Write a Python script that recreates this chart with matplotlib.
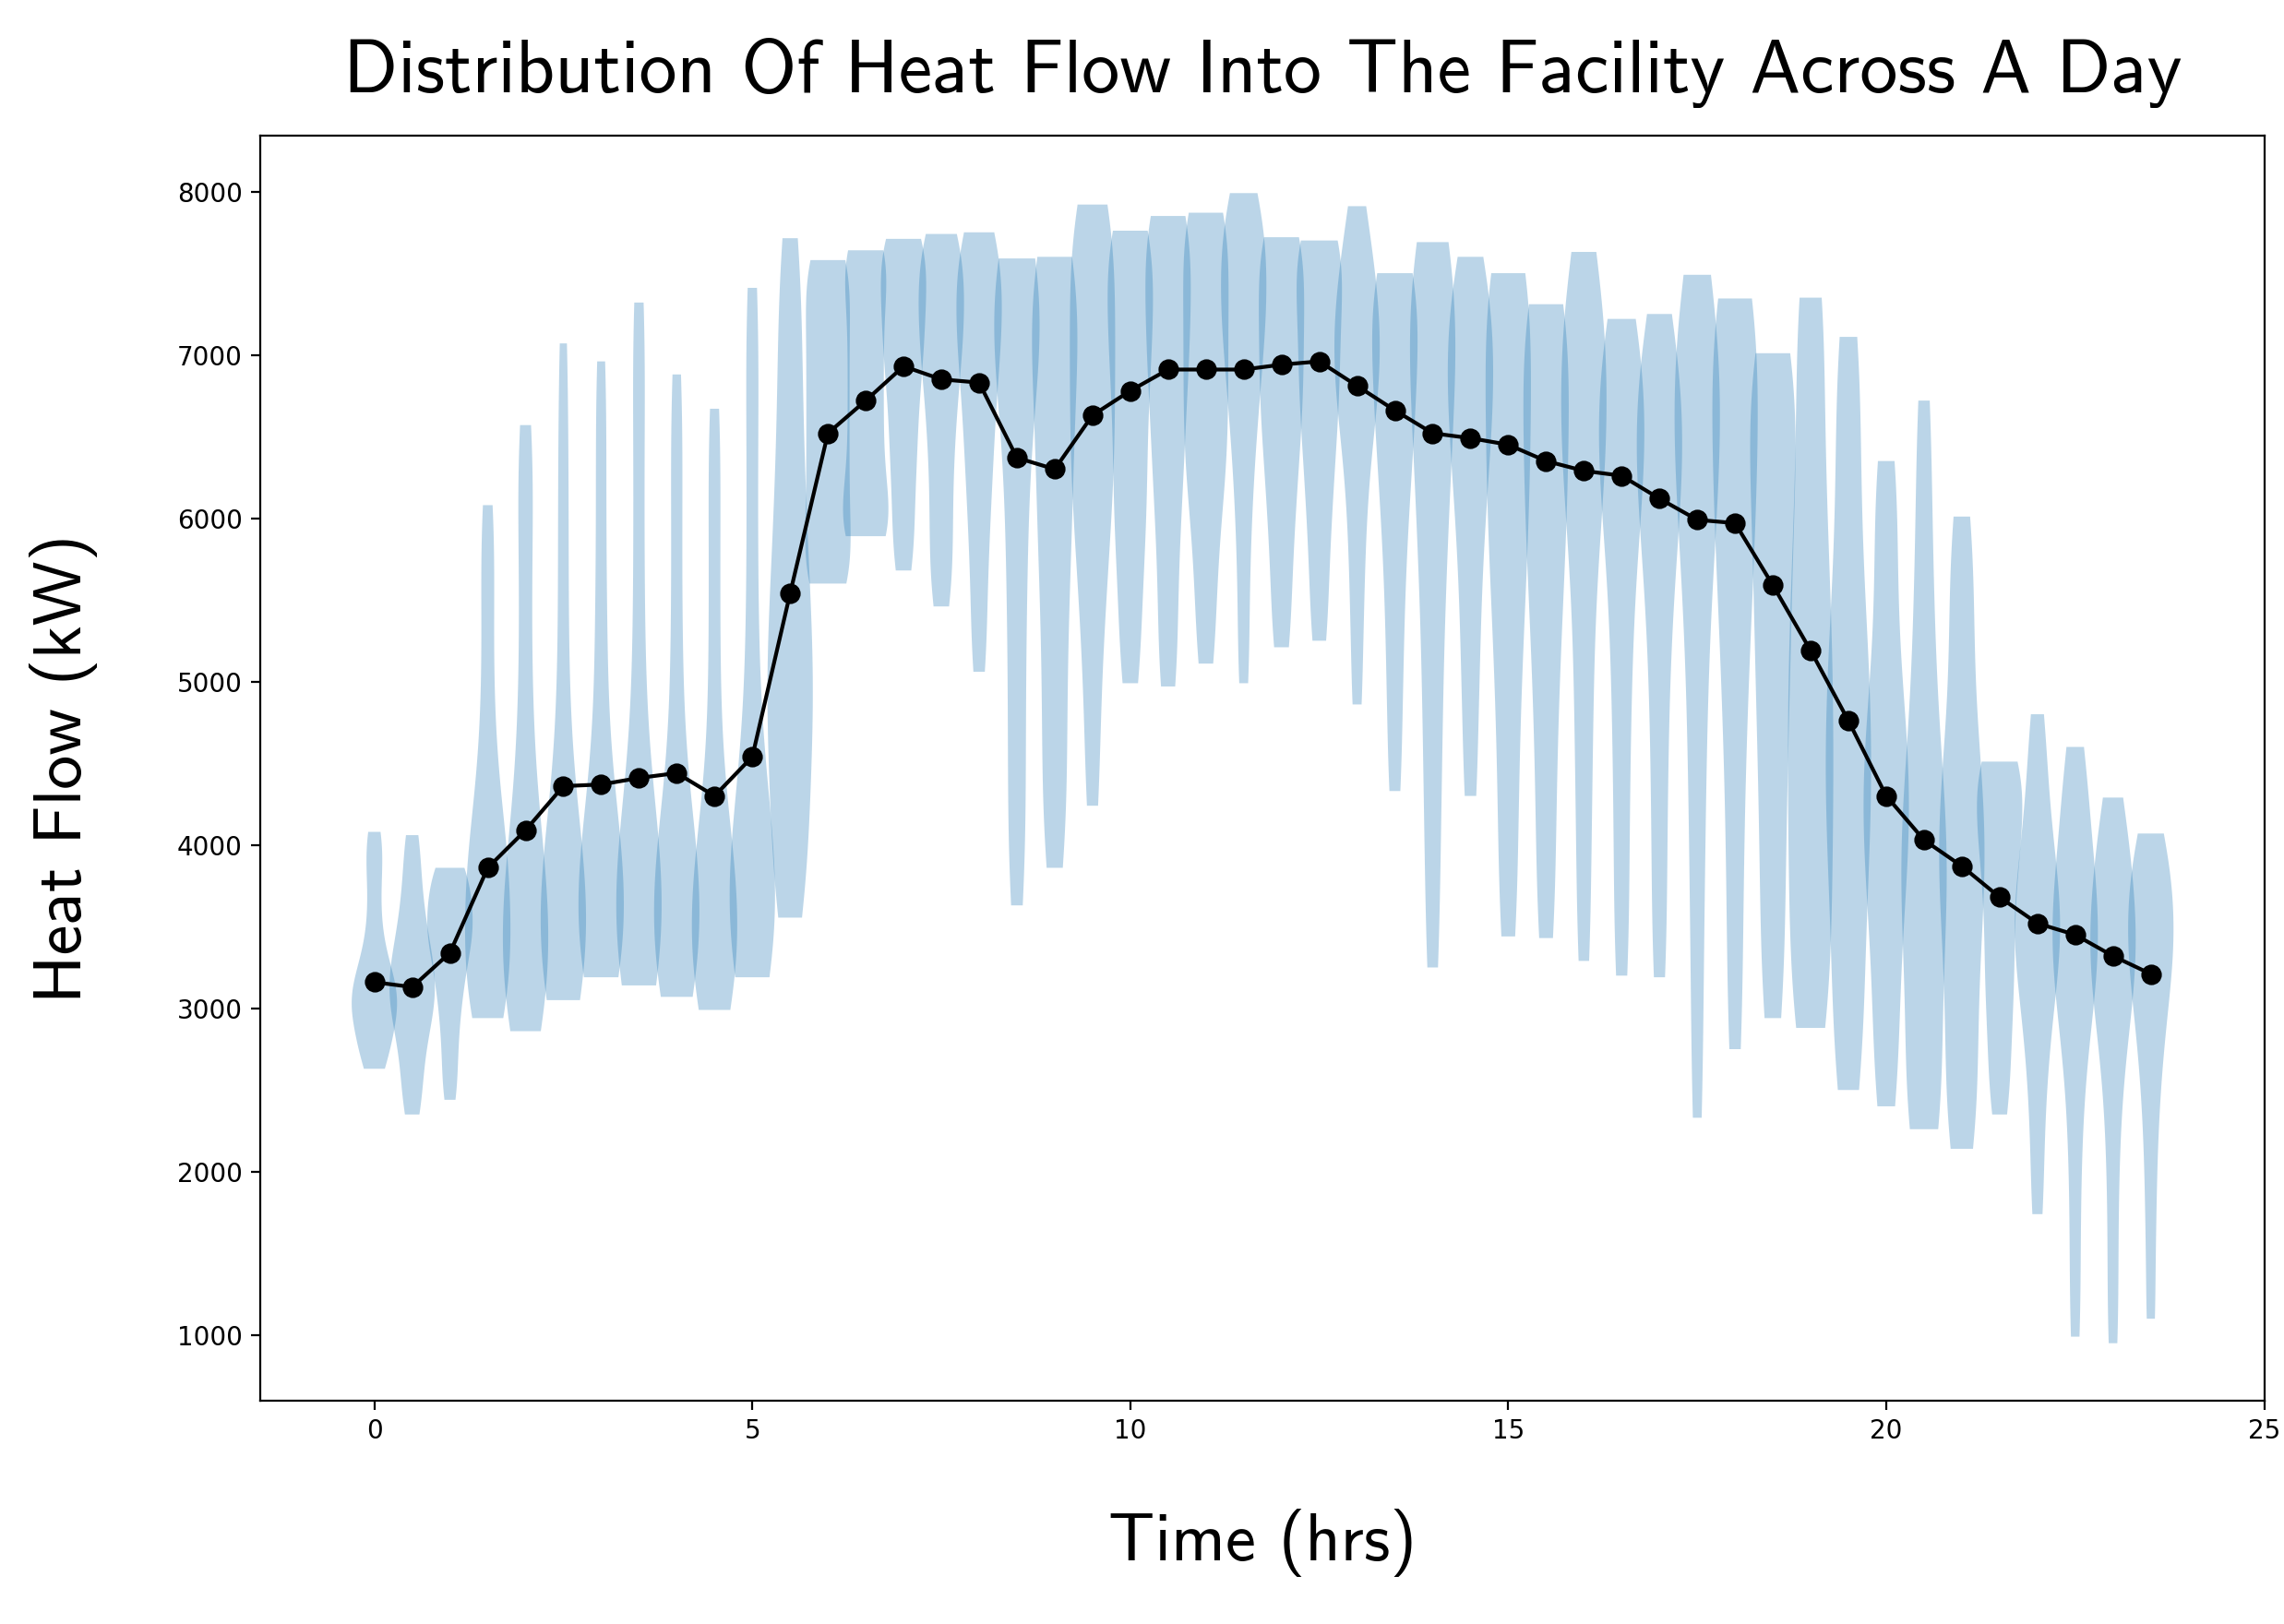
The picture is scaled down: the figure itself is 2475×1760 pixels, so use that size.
import numpy as np
import matplotlib
matplotlib.use("Agg")
import matplotlib.pyplot as plt

times = [0, 0.5, 1, 1.5, 2, 2.5, 3, 3.5, 4, 4.5, 5, 5.5, 6, 6.5, 7, 7.5, 8, 8.5,
         9, 9.5, 10, 10.5, 11, 11.5, 12, 12.5, 13, 13.5, 14, 14.5, 15, 15.5, 16,
         16.5, 17, 17.5, 18, 18.5, 19, 19.5, 20, 20.5, 21, 21.5, 22, 22.5, 23, 23.5]

mean_flow = [3160, 3130, 3340, 3860, 4090, 4360, 4370, 4410, 4440, 4300, 4540, 5540,
             6520, 6720, 6930, 6850, 6830, 6370, 6300, 6630, 6780, 6910, 6910, 6910,
             6940, 6960, 6810, 6660, 6520, 6490, 6450, 6350, 6290, 6260, 6120, 5990,
             5970, 5590, 5190, 4760, 4300, 4030, 3870, 3680, 3520, 3450, 3320, 3210]

flow_samples = [
    [2630, 2700, 2780, 2850, 2920, 2980, 3030, 3060, 3100, 3150, 3220, 3300, 3420, 3600, 3800, 3950, 4080],
    [2350, 2500, 2650, 2780, 2880, 2960, 3030, 3090, 3150, 3210, 3280, 3360, 3450, 3560, 3700, 3870, 4060],
    [2440, 2600, 2760, 2900, 3020, 3120, 3200, 3280, 3350, 3410, 3460, 3500, 3550, 3600, 3660, 3720, 3790, 3860, 3860],
    [2940, 2940, 3050, 3150, 3250, 3350, 3450, 3550, 3650, 3750, 3850, 3950, 4050, 4200, 4400, 4650, 5000, 5400, 5750, 6080],
    [2860, 2900, 3000, 3100, 3200, 3300, 3400, 3500, 3600, 3700, 3800, 3900, 4050, 4250, 4500, 4800, 5200, 5600, 6000, 6300, 6570],
    [3050, 3050, 3150, 3250, 3350, 3450, 3550, 3650, 3750, 3850, 3950, 4100, 4300, 4600, 5000, 5500, 6000, 6500, 7070],
    [3190, 3190, 3250, 3350, 3450, 3550, 3650, 3750, 3850, 3950, 4050, 4200, 4400, 4700, 5100, 5500, 6000, 6500, 6960],
    [3140, 3140, 3220, 3320, 3420, 3520, 3620, 3720, 3820, 3920, 4020, 4150, 4350, 4650, 5050, 5500, 6000, 6500, 7000, 7320],
    [3070, 3100, 3200, 3300, 3400, 3500, 3600, 3700, 3800, 3900, 4000, 4150, 4350, 4650, 5050, 5500, 6000, 6450, 6880],
    [2990, 3020, 3120, 3220, 3320, 3420, 3520, 3620, 3720, 3820, 3920, 4050, 4250, 4550, 4950, 5400, 5850, 6300, 6670],
    [3190, 3190, 3280, 3380, 3480, 3580, 3680, 3780, 3880, 3980, 4100, 4250, 4450, 4750, 5150, 5600, 6100, 6600, 7050, 7410],
    [3555, 3700, 3900, 4100, 4300, 4500, 4650, 4800, 4950, 5100, 5250, 5400, 5600, 5800, 6000, 6250, 6500, 6800, 7100, 7400, 7714],
    [5600, 5600, 5750, 5900, 6050, 6200, 6350, 6500, 6650, 6800, 6950, 7100, 7250, 7400, 7580, 7580],
    [5890, 5890, 5950, 6050, 6200, 6350, 6500, 6650, 6800, 6950, 7100, 7250, 7400, 7550, 7640, 7640],
    [5680, 5850, 6050, 6250, 6400, 6550, 6700, 6850, 6950, 7050, 7150, 7250, 7350, 7450, 7550, 7620, 7710, 7710],
    [5460, 5650, 5850, 6050, 6250, 6450, 6600, 6750, 6900, 7000, 7100, 7200, 7300, 7400, 7500, 7600, 7700, 7740],
    [5060, 5350, 5650, 5900, 6100, 6300, 6450, 6600, 6750, 6900, 7000, 7100, 7200, 7300, 7400, 7500, 7600, 7700, 7750],
    [3630, 3900, 4200, 4500, 4800, 5100, 5400, 5650, 5900, 6150, 6350, 6550, 6750, 6900, 7000, 7050, 7200, 7300, 7400, 7450, 7500, 7590, 7590],
    [3860, 4150, 4450, 4750, 5050, 5350, 5600, 5850, 6050, 6250, 6450, 6650, 6850, 7000, 7150, 7300, 7450, 7600, 7600],
    [4240, 4700, 5100, 5400, 5650, 5850, 6050, 6200, 6350, 6500, 6650, 6800, 6950, 7100, 7250, 7400, 7550, 7700, 7850, 7920],
    [4990, 5300, 5600, 5850, 6050, 6250, 6450, 6650, 6850, 7000, 7150, 7300, 7450, 7600, 7760, 7760],
    [4970, 5300, 5650, 5950, 6200, 6400, 6600, 6800, 6950, 7100, 7250, 7400, 7550, 7700, 7850, 7850],
    [5110, 5450, 5750, 6000, 6200, 6350, 6500, 6650, 6800, 6950, 7100, 7250, 7400, 7550, 7700, 7870, 7870],
    [4990, 5400, 5800, 6100, 6350, 6550, 6700, 6850, 7000, 7100, 7200, 7300, 7400, 7500, 7600, 7700, 7800, 7900, 7990],
    [5210, 5550, 5850, 6100, 6300, 6500, 6650, 6800, 6950, 7100, 7250, 7400, 7550, 7720, 7720],
    [5250, 5600, 5900, 6150, 6350, 6550, 6700, 6850, 7000, 7150, 7300, 7450, 7580, 7700, 7700],
    [4860, 5300, 5650, 5950, 6200, 6400, 6550, 6700, 6800, 6900, 7000, 7100, 7200, 7300, 7400, 7550, 7700, 7910],
    [4330, 4800, 5200, 5550, 5850, 6100, 6300, 6500, 6650, 6800, 6950, 7100, 7250, 7380, 7500, 7500],
    [3250, 3800, 4300, 4700, 5100, 5450, 5750, 6000, 6250, 6450, 6650, 6850, 7000, 7150, 7300, 7450, 7600, 7690],
    [4300, 4800, 5200, 5550, 5850, 6100, 6300, 6500, 6650, 6800, 6950, 7100, 7250, 7400, 7600],
    [3440, 3900, 4350, 4750, 5100, 5400, 5650, 5900, 6100, 6300, 6500, 6700, 6900, 7100, 7300, 7500, 7500],
    [3430, 3900, 4350, 4750, 5100, 5400, 5650, 5900, 6100, 6300, 6500, 6700, 6900, 7100, 7310, 7310],
    [3290, 3800, 4300, 4700, 5100, 5450, 5750, 6000, 6200, 6350, 6500, 6650, 6800, 6950, 7100, 7250, 7450, 7630],
    [3200, 3700, 4200, 4650, 5050, 5400, 5700, 5950, 6150, 6300, 6450, 6600, 6750, 6900, 7050, 7220],
    [3190, 3700, 4200, 4650, 5050, 5400, 5650, 5900, 6100, 6250, 6400, 6550, 6700, 6850, 7000, 7250],
    [2330, 3000, 3600, 4100, 4550, 4950, 5300, 5600, 5850, 6050, 6250, 6400, 6550, 6700, 6850, 7000, 7150, 7300, 7490],
    [2750, 3350, 3900, 4400, 4800, 5150, 5450, 5700, 5950, 6150, 6350, 6550, 6750, 6950, 7150, 7345, 7345],
    [2940, 3300, 3700, 4050, 4400, 4700, 5000, 5250, 5500, 5750, 6000, 6200, 6400, 6600, 6800, 7000, 7010],
    [2880, 2950, 3150, 3400, 3650, 3850, 4050, 4250, 4450, 4650, 4850, 5050, 5250, 5450, 5700, 5950, 6250, 6550, 6900, 7350, 7350],
    [2500, 2750, 3050, 3350, 3650, 3900, 4100, 4300, 4500, 4700, 4900, 5100, 5350, 5650, 6000, 6400, 6800, 7110],
    [2400, 2650, 2950, 3250, 3500, 3700, 3900, 4050, 4200, 4350, 4500, 4650, 4850, 5100, 5400, 5750, 6100, 6350],
    [2260, 2260, 2450, 2700, 2950, 3200, 3400, 3600, 3750, 3900, 4050, 4200, 4400, 4650, 4950, 5300, 5700, 6200, 6720],
    [2140, 2300, 2550, 2800, 3050, 3300, 3500, 3700, 3850, 4000, 4150, 4300, 4500, 4750, 5050, 5400, 5700, 6010],
    [2350, 2550, 2750, 2950, 3100, 3250, 3400, 3550, 3700, 3850, 3950, 4050, 4150, 4250, 4350, 4450, 4510, 4510],
    [1740, 2150, 2500, 2750, 2950, 3100, 3250, 3350, 3450, 3550, 3650, 3750, 3900, 4050, 4250, 4500, 4800],
    [990, 1500, 2000, 2400, 2700, 2900, 3050, 3200, 3300, 3400, 3500, 3600, 3700, 3850, 4000, 4200, 4400, 4600],
    [950, 1450, 1950, 2350, 2650, 2850, 3000, 3150, 3250, 3350, 3450, 3550, 3650, 3800, 3950, 4100, 4290],
    [1100, 1650, 2100, 2450, 2700, 2900, 3050, 3200, 3300, 3400, 3500, 3600, 3700, 3850, 3950, 4070],
]

title = "Distribution Of Heat Flow Into The Facility Across A Day"
xlabel = "Time (hrs)"
ylabel = "Heat Flow (kW)"

fig = plt.figure(figsize=(12.375, 8.8), dpi=200)
ax = fig.add_axes([0.1141, 0.1375, 0.9915 - 0.1141, 0.9165 - 0.1375])

parts = ax.violinplot(flow_samples, positions=times, widths=0.6,
                      showextrema=False, bw_method=0.37)
for body in parts["bodies"]:
    body.set_facecolor("#1f77b4")
    body.set_edgecolor("none")
    body.set_alpha(0.3)

ax.plot(times, mean_flow, color="black", marker="o", markersize=7, linewidth=1.5, zorder=3)

ax.tick_params(labelsize=10)
ax.set_title(title, fontfamily="cmss10", fontsize=29.5, pad=17)
ax.set_xlabel(xlabel, fontfamily="cmss10", fontsize=26.7, labelpad=25)
ax.set_ylabel(ylabel, fontfamily="cmss10", fontsize=26.7, labelpad=31)

fig.savefig("out.png", dpi=200)
